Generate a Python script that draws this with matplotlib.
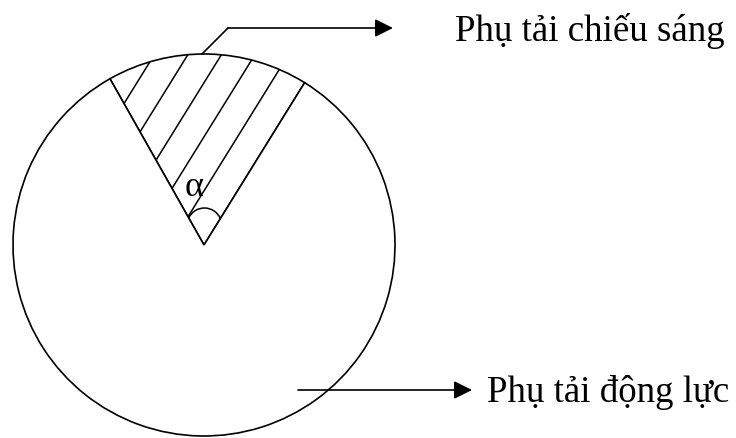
import numpy as np
import matplotlib.pyplot as plt
from matplotlib.patches import Arc, PathPatch
from matplotlib.path import Path

# load split, in degrees of the circle (lighting = alpha)
labels = ["Phụ tải chiếu sáng", "Phụ tải động lực"]
shares = [61.3, 298.7]
start_angle = 58.2
angle_label = "α"

# geometry in pixel-like data units (y up)
cx, cy, R = 204, 193, 191
hatch_gap = 28.5
mark_off, mark_r, mark_half = 19.7, 17.3, 66  # angle mark arc

fig = plt.figure(figsize=(7.36, 4.39), dpi=100)
ax = fig.add_axes([0, 0, 1, 1])

ax.pie(shares, startangle=start_angle, counterclock=True, radius=R,
       center=(cx, cy), colors=["white", "white"],
       wedgeprops=dict(edgecolor="black", linewidth=1.2))

th1 = start_angle
th2 = start_angle + shares[0] * 360 / sum(shares)
mid = np.radians((th1 + th2) / 2)
mc = np.array([cx + mark_off * np.cos(mid), cy + mark_off * np.sin(mid)])

# clip region: sector above the angle mark
a_big = np.radians(np.linspace(th2, th1, 80))
big = np.column_stack([cx + R * np.cos(a_big), cy + R * np.sin(a_big)])
a_sm = mid + np.radians(np.linspace(-mark_half, mark_half, 40))
small = np.column_stack([mc[0] + mark_r * np.cos(a_sm), mc[1] + mark_r * np.sin(a_sm)])
verts = np.vstack([big, small, big[:1]])
clip = PathPatch(Path(verts, closed=True), transform=ax.transData)

# hatching parallel to the right edge of the sector
u = np.array([np.cos(np.radians(th1)), np.sin(np.radians(th1))])
n = np.array([-u[1], u[0]])
t = np.array([-400, 400])
for k in range(1, 6):
    p0 = np.array([cx, cy]) + n * k * hatch_gap
    line, = ax.plot(p0[0] + t * u[0], p0[1] + t * u[1], color="black", lw=1.1)
    line.set_clip_path(clip)

# angle mark
mdeg = np.degrees(mid)
ax.add_patch(Arc(mc, 2 * mark_r, 2 * mark_r, theta1=mdeg - mark_half,
                 theta2=mdeg + mark_half, color="black", lw=1.1))
ax.text(cx - 9.5, cy + 58, angle_label, fontsize=26, ha="center", va="center",
        family=["Liberation Serif", "DejaVu Serif"])

# leader from the lighting sector
lead_ang = np.radians(90.6)
p_start = (cx + R * np.cos(lead_ang), cy + R * np.sin(lead_ang))
elbow = (228, 410)
ax.plot([p_start[0], elbow[0]], [p_start[1], elbow[1]], color="black", lw=1.2)
arrow = dict(arrowstyle="-|>,head_length=1.1,head_width=0.55", color="black",
             lw=1.2, shrinkA=0, shrinkB=0, mutation_scale=10)
ax.annotate("", xy=(393, 410), xytext=elbow, arrowprops=arrow)
ax.text(455, 398, labels[0], fontsize=26.6, ha="left", va="baseline",
        family=["Liberation Serif", "DejaVu Serif"])

# leader for the motive load
ax.annotate("", xy=(472, 48), xytext=(298, 48), arrowprops=arrow)
ax.text(487, 37, labels[1], fontsize=26.6, ha="left", va="baseline",
        family=["Liberation Serif", "DejaVu Serif"])

ax.set_xlim(0, 736)
ax.set_ylim(0, 439)
ax.set_aspect("equal")
ax.axis("off")

fig.savefig("out.png", dpi=100)
